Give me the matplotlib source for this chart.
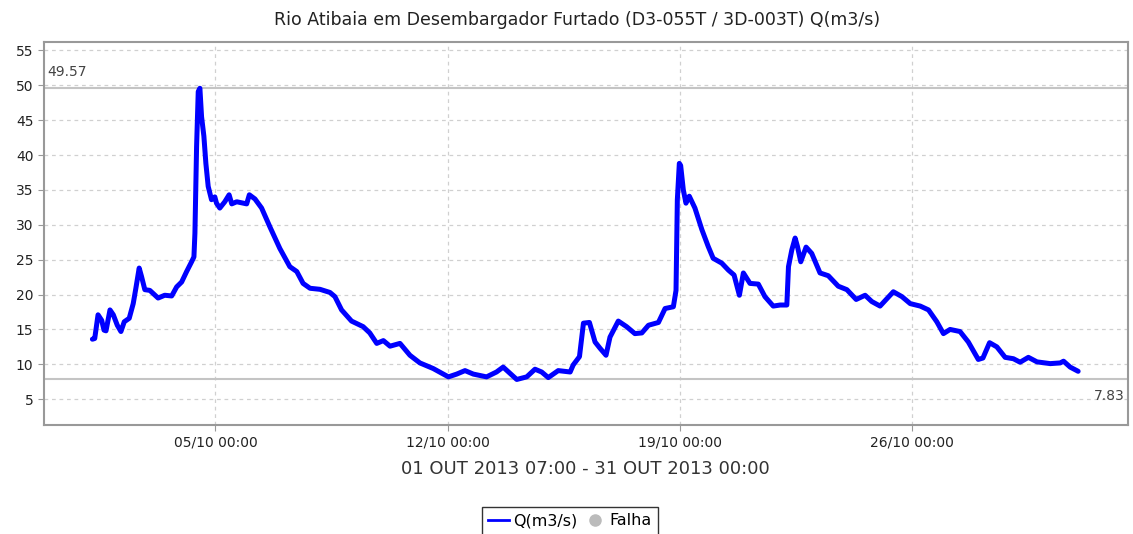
import numpy as np
import pandas as pd
import matplotlib
matplotlib.use("Agg")
import matplotlib.pyplot as plt
import matplotlib.dates as mdates
from matplotlib.lines import Line2D

# days since 01/10/2013 00:00
days = [0.29, 0.36, 0.46, 0.57, 0.64, 0.70, 0.82, 0.92, 1.04, 1.15, 1.25, 1.40, 1.52, 1.60,
        1.70, 1.77, 1.87, 2.02, 2.27, 2.47, 2.68, 2.83, 2.98, 3.13, 3.28, 3.35, 3.38, 3.41,
        3.43, 3.48, 3.53, 3.58, 3.65, 3.71, 3.78, 3.88, 3.98, 4.03, 4.13, 4.28, 4.41, 4.49,
        4.64, 4.94, 5.02, 5.19, 5.39, 5.64, 5.94, 6.24, 6.45, 6.64, 6.85, 7.15, 7.45, 7.60,
        7.80, 8.10, 8.45, 8.65, 8.86, 9.06, 9.26, 9.56, 9.86, 10.16, 10.56, 11.02, 11.27,
        11.52, 11.77, 12.17, 12.47, 12.67, 12.88, 13.08, 13.38, 13.63, 13.83, 14.03, 14.33,
        14.69, 14.78, 14.97, 15.09, 15.27, 15.44, 15.59, 15.77, 15.89, 16.14, 16.39, 16.64,
        16.85, 17.05, 17.35, 17.55, 17.80, 17.88, 17.92, 17.98, 18.02, 18.10, 18.18, 18.28,
        18.45, 18.66, 18.85, 19.00, 19.26, 19.46, 19.63, 19.79, 19.91, 20.11, 20.36, 20.56,
        20.81, 21.02, 21.22, 21.27, 21.37, 21.47, 21.54, 21.64, 21.80, 21.97, 22.22, 22.47,
        22.77, 23.03, 23.31, 23.58, 23.78, 24.03, 24.43, 24.69, 24.94, 25.24, 25.49, 25.74,
        25.94, 26.14, 26.44, 26.69, 26.99, 27.13, 27.33, 27.55, 27.80, 28.05, 28.25, 28.50,
        28.76, 29.16, 29.46, 29.56, 29.76, 30.00]
vazao = [13.6, 13.7, 17.1, 16.3, 14.9, 14.8, 17.8, 17.1, 15.6, 14.7, 16.1, 16.6, 18.7, 20.9,
         23.8, 22.6, 20.7, 20.6, 19.5, 19.9, 19.8, 21.1, 21.8, 23.3, 24.7, 25.4, 28.8, 36.4,
         41.2, 49.1, 49.57, 45.5, 42.7, 38.8, 35.5, 33.6, 34.0, 33.1, 32.4, 33.3, 34.3, 33.0,
         33.3, 33.0, 34.3, 33.7, 32.4, 29.7, 26.6, 24.0, 23.3, 21.6, 20.9, 20.75, 20.3, 19.7,
         17.8, 16.2, 15.4, 14.5, 13.0, 13.4, 12.6, 13.0, 11.3, 10.2, 9.4, 8.2, 8.6,
         9.1, 8.6, 8.2, 8.9, 9.6, 8.7, 7.83, 8.2, 9.3, 8.9, 8.1, 9.1,
         8.9, 9.9, 11.1, 15.9, 16.0, 13.2, 12.3, 11.3, 13.9, 16.2, 15.4, 14.4,
         14.5, 15.6, 16.0, 18.0, 18.25, 20.6, 33.6, 38.8, 38.5, 35.0, 33.1, 34.1,
         32.4, 29.3, 26.9, 25.2, 24.5, 23.5, 22.8, 19.9, 23.1, 21.6, 21.5, 19.7,
         18.35, 18.5, 18.5, 24.0, 26.4, 28.1, 26.9, 24.7, 26.8, 25.9, 23.1, 22.7,
         21.2, 20.7, 19.3, 19.9, 19.0, 18.35, 20.4, 19.7, 18.7, 18.35, 17.8, 16.1,
         14.4, 15.0, 14.7, 13.2, 10.7, 10.9, 13.1, 12.5, 11.0, 10.8, 10.3, 11.0,
         10.35, 10.1, 10.2, 10.45, 9.6, 9.0]

q_max = 49.57
q_min = 7.83
tick_days = ["2013-10-05", "2013-10-12", "2013-10-19", "2013-10-26"]

base = pd.Timestamp("2013-10-01 00:00")
times = base + pd.to_timedelta(days, unit="D")

fig = plt.figure(figsize=(11.33, 5.34), dpi=100)
ax = fig.add_axes([0.0388, 0.2041, 0.957, 0.7172])

ax.axhline(q_max, color="#c4c4c4", lw=1.5, zorder=1)
ax.axhline(q_min, color="#c4c4c4", lw=1.5, zorder=1)
ax.plot(times, vazao, color="#0000ff", lw=3.6, zorder=3,
        solid_joinstyle="round", solid_capstyle="round")

ax.set_xlim(base + pd.Timedelta(days=-1.17), base + pd.Timedelta(days=31.51))
ax.set_ylim(1.3, 56.2)
ax.set_yticks(np.arange(5, 60, 5))
ax.set_xticks(pd.to_datetime(tick_days))
ax.xaxis.set_major_formatter(mdates.DateFormatter("%d/%m %H:%M"))

ax.grid(True, color="#d0d0d0", linestyle=(0, (3, 3)), lw=0.9)
ax.set_axisbelow(True)
for s in ax.spines.values():
    s.set_color("#999999")
    s.set_linewidth(1.5)
ax.tick_params(colors="#999999", labelcolor="#222222", labelsize=10, length=4)

ax.text(0.003, q_max + 1.3, "49.57", transform=ax.get_yaxis_transform(),
        fontsize=10, color="#444444", ha="left", va="bottom")
ax.text(0.997, q_min - 1.3, "7.83", transform=ax.get_yaxis_transform(),
        fontsize=10, color="#444444", ha="right", va="top")

fig.text(577 / 1133, 1 - 20 / 534, "Rio Atibaia em Desembargador Furtado (D3-055T / 3D-003T) Q(m3/s)",
         ha="center", va="center", fontsize=12.5, color="#222222")
fig.text(585 / 1133, 1 - 469 / 534, "01 OUT 2013 07:00 - 31 OUT 2013 00:00",
         ha="center", va="center", fontsize=13, color="#333333")

handles = [Line2D([], [], color="#0000ff", lw=2),
           Line2D([], [], color="#bbbbbb", marker="o", ls="none", markersize=8)]
leg = fig.legend(handles, ["Q(m3/s)", "Falha"], loc="upper center",
                 bbox_to_anchor=(570 / 1133, 1 - 499 / 534), ncol=2, fontsize=11.5,
                 frameon=True, fancybox=False, edgecolor="black", handlelength=1.3,
                 handletextpad=0.3, columnspacing=0.4, borderpad=0.4)
leg.get_frame().set_linewidth(1.0)

fig.savefig("out.png", dpi=100)
